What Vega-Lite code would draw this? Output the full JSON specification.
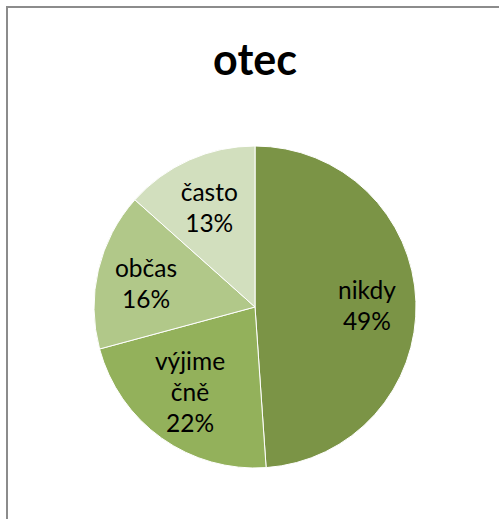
{
  "$schema": "https://vega.github.io/schema/vega-lite/v6.json",
  "autosize": "none",
  "padding": {"left": 7, "top": 7, "right": 0, "bottom": 0},
  "width": 496,
  "height": 600,
  "background": "white",
  "view": {"stroke": "#8c8c8c", "strokeWidth": 2},
  "title": {"text": "otec", "font": "Lato", "fontSize": 43, "fontWeight": "bold", "color": "black", "anchor": "middle", "baseline": "alphabetic", "offset": -68, "dy": 43},
  "data": {"values": [
    {"kategorie": "nikdy", "podil": 48.9, "label": "nikdy\n49%", "radky": 2},
    {"kategorie": "výjimečně", "podil": 21.9, "label": "výjime\nčně\n22%", "radky": 3},
    {"kategorie": "občas", "podil": 15.8, "label": "občas\n16%", "radky": 2},
    {"kategorie": "často", "podil": 13.4, "label": "často\n13%", "radky": 2}
  ]},
  "encoding": {
    "theta": {"field": "podil", "type": "quantitative", "stack": true},
    "order": {"field": "podil", "type": "quantitative", "sort": "descending"}
  },
  "layer": [
    {
      "mark": {"type": "arc", "outerRadius": 161, "stroke": "white", "strokeWidth": 1},
      "encoding": {
        "color": {"field": "kategorie", "type": "nominal",
          "scale": {"domain": ["nikdy", "výjimečně", "občas", "často"], "range": ["#7b9446", "#93b15b", "#b1c889", "#d2dfbe"]},
          "legend": null}
      }
    },
    {
      "mark": {"type": "text", "radius": 112, "font": "Lato", "fontSize": 24.5, "color": "black", "lineBreak": "\n", "lineHeight": 31, "baseline": "middle", "align": "center", "dy": -11},
      "encoding": {"text": {"condition": {"test": "datum.radky == 2", "field": "label", "type": "nominal"}, "value": ""}}
    },
    {
      "mark": {"type": "text", "radius": 112, "font": "Lato", "fontSize": 24.5, "color": "black", "lineBreak": "\n", "lineHeight": 31, "baseline": "middle", "align": "center", "dy": -35},
      "encoding": {"text": {"condition": {"test": "datum.radky == 3", "field": "label", "type": "nominal"}, "value": ""}}
    }
  ]
}
